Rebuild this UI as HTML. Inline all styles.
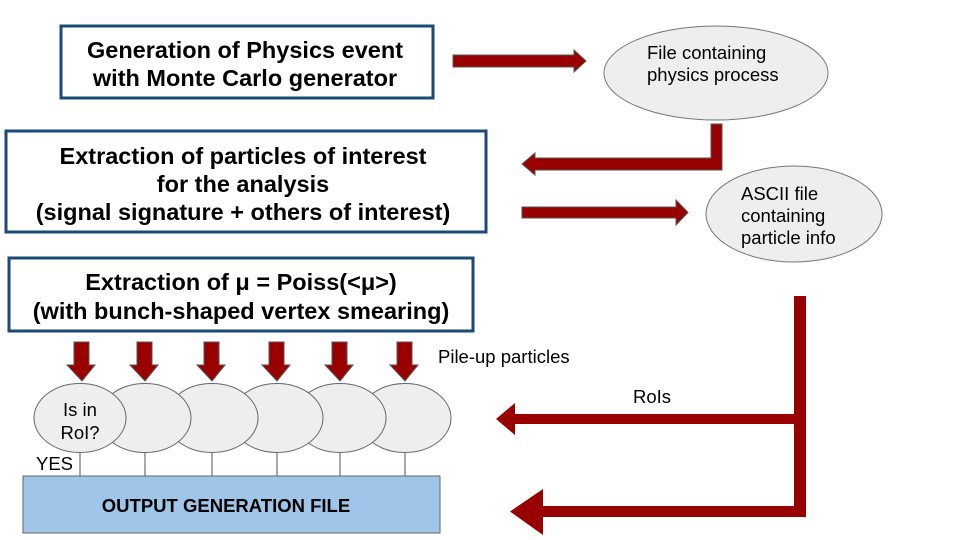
<!DOCTYPE html>
<html><head><meta charset="utf-8"><style>
body{margin:0;background:#fff;}
svg{display:block;font-family:"Liberation Sans",Arial,sans-serif;}
</style></head><body>
<svg width="960" height="540" viewBox="0 0 960 540" xmlns="http://www.w3.org/2000/svg">
<g fill="#fff" stroke="#1c4a78" stroke-width="3">
<rect x="61" y="26" width="372" height="72"/>
<rect x="6" y="131" width="480" height="101"/>
<rect x="9" y="258" width="464" height="73"/>
</g>
<g font-weight="bold" font-size="23.5" text-anchor="middle" fill="#000">
<text x="245" y="58">Generation of Physics event</text>
<text x="245" y="86">with Monte Carlo generator</text>
<text x="243" y="164">Extraction of particles of interest</text>
<text x="243" y="192">for the analysis</text>
<text x="243" y="220">(signal signature + others of interest)</text>
<text x="241" y="290">Extraction of μ = Poiss(&lt;μ&gt;)</text>
<text x="241" y="319">(with bunch-shaped vertex smearing)</text>
</g>
<g fill="#eeeeee" stroke="#777" stroke-width="1">
<ellipse cx="716" cy="73" rx="112" ry="47"/>
<ellipse cx="794" cy="214" rx="88" ry="48"/>
</g>
<g font-size="18.5" fill="#000">
<text x="647" y="59">File containing</text>
<text x="647" y="81">physics process</text>
<text x="741" y="200">ASCII file</text>
<text x="741" y="222">containing</text>
<text x="741" y="244">particle info</text>
</g>
<g fill="#990000" stroke="#555" stroke-width="1">
<polygon points="453,55 574,55 574,50 586,61 574,72 574,67 453,67"/>
<polygon points="722,124 722,170 535,170 535,175 522,164 535,153 535,158 711,158 711,124"/>
<polygon points="522,207 676,207 676,200 688,212.5 676,225 676,218 522,218"/>
</g>
<g fill="#990000">
<polygon points="794,296 806,296 806,517 543,517 543,535 510,511.5 543,489 543,506 794,506 794,424 515,424 515,435 496,419 515,403 515,414 794,414"/>
</g>
<g fill="#990000" stroke="#555" stroke-width="1">
<polygon points="74,342 89,342 89,365 95,365 82,381 67,365 74,365"/>
<polygon points="137,342 152,342 152,365 158,365 145,381 130,365 137,365"/>
<polygon points="204,342 219,342 219,365 225,365 212,381 197,365 204,365"/>
<polygon points="269,342 284,342 284,365 290,365 277,381 262,365 269,365"/>
<polygon points="332,342 347,342 347,365 353,365 340,381 325,365 332,365"/>
<polygon points="397,342 412,342 412,365 418,365 405,381 390,365 397,365"/>
</g>
<g stroke="#555" stroke-width="1">
<line x1="80" y1="450" x2="80" y2="476"/><line x1="145" y1="450" x2="145" y2="476"/>
<line x1="212" y1="450" x2="212" y2="476"/><line x1="277" y1="450" x2="277" y2="476"/>
<line x1="340" y1="450" x2="340" y2="476"/><line x1="405" y1="450" x2="405" y2="476"/>
</g>
<g fill="#eeeeee" stroke="#666" stroke-width="1">
<ellipse cx="405" cy="418" rx="46" ry="34.5"/>
<ellipse cx="340" cy="418" rx="46" ry="34.5"/>
<ellipse cx="277" cy="418" rx="46" ry="34.5"/>
<ellipse cx="212" cy="418" rx="46" ry="34.5"/>
<ellipse cx="145" cy="418" rx="46" ry="34.5"/>
<ellipse cx="80" cy="418" rx="46" ry="34.5"/>
</g>
<g font-size="18.5" fill="#000">
<text x="80" y="416" text-anchor="middle">Is in</text>
<text x="80" y="439" text-anchor="middle">RoI?</text>
<text x="36" y="470">YES</text>
<text x="438" y="363">Pile-up particles</text>
<text x="633" y="403">RoIs</text>
</g>
<rect x="23" y="476" width="417" height="57" fill="#9fc5e8" stroke="#666" stroke-width="1"/>
<text x="226" y="512" font-size="18.5" font-weight="bold" text-anchor="middle" fill="#000">OUTPUT GENERATION FILE</text>
</svg>
</body></html>
